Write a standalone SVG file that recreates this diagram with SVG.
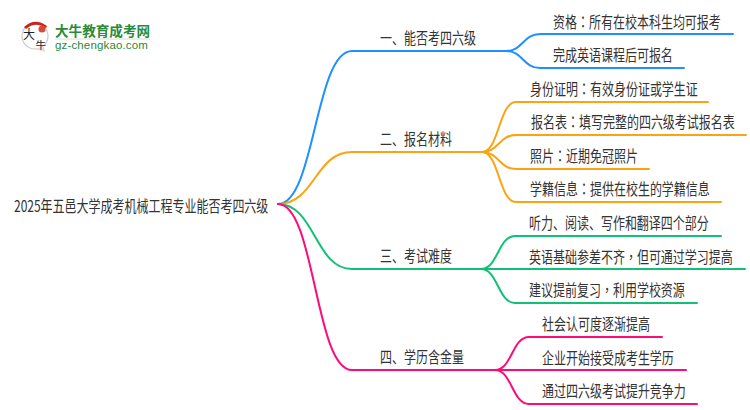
<svg xmlns="http://www.w3.org/2000/svg" width="750" height="410" viewBox="0 0 750 410">
<style>
text{font-family:"Noto Sans CJK SC","Noto Sans",sans-serif;font-size:16px;fill:#333}
tspan{font-family:"Noto Sans CJK TC","Noto Sans",sans-serif}
.c{fill:none;stroke-width:2;stroke-linecap:round}
.b{stroke:#1e90ff}.o{stroke:#fca311}.g{stroke:#10c077}.p{stroke:#ff0a78}
</style>
<rect width="750" height="410" fill="#fff"/>
<g id="logo">
<circle cx="35" cy="36" r="13" fill="#fff" stroke="#ccc" stroke-width="1.2"/>
<path d="M24 27Q35 17 47 26L46 28Q35 21 26 29Z" fill="#c8251d"/>
<circle cx="42" cy="29" r="3.5" fill="#d64a3c"/>
<path d="M35 49L44 47L45 52Z" fill="#ddd"/>
<text x="23" y="39" style="font-size:12px;fill:#222">大</text>
<text x="35.5" y="49" style="font-size:10.5px;fill:#222">牛</text>
<text x="55" y="36" style="font-size:13.6px;font-weight:700;fill:#2a8a3a">大牛教育成考网</text>
<path d="M55 39H150" stroke="#cfe3d0" stroke-width="1"/>
<text x="55" y="49" style="font-size:11.5px;font-family:'Liberation Sans',sans-serif;fill:#2a8a3a;letter-spacing:.15px">gz-chengkao.com</text>
</g>
<g id="connectors">
<path class="c b" d="M278 204C315 204 315 51 352 51H506"/>
<path class="c o" d="M278 204C315 204 315 152 352 152H482"/>
<path class="c g" d="M278 204C315 204 315 269 352 269H481"/>
<path class="c p" d="M278 204C315 204 315 370 352 370H495"/>
<path class="c b" d="M506 51C523 51 523 34 540 34H733"/>
<path class="c b" d="M506 51C523 51 523 68 540 68H684"/>
<path class="c o" d="M482 152C499 152 499 102 516 102H708"/>
<path class="c o" d="M482 152C499 152 499 135 516 135H746"/>
<path class="c o" d="M482 152C499 152 499 169 516 169H649"/>
<path class="c o" d="M482 152C499 152 499 202 516 202H721"/>
<path class="c g" d="M481 269C498 269 498 236 515 236H721"/>
<path class="c g" d="M481 269H745"/>
<path class="c g" d="M481 269C498 269 498 303 515 303H697"/>
<path class="c p" d="M495 370C512 370 512 337 529 337H662"/>
<path class="c p" d="M495 370H686"/>
<path class="c p" d="M495 370C512 370 512 404 529 404H697"/>
</g>
<g id="root"><text transform="translate(14 212) scale(.75 1)">2025年五邑大学成考机械工程专业能否考四六级</text></g>
<g id="n1"><text transform="translate(380 44) scale(.75 1)">一、能否考四六级</text></g>
<g id="n2"><text transform="translate(380 145) scale(.75 1)">二、报名材料</text></g>
<g id="n3"><text transform="translate(380 262) scale(.75 1)">三、考试难度</text></g>
<g id="n4"><text transform="translate(380 363) scale(.75 1)">四、学历含金量</text></g>
<g id="n11"><text transform="translate(553 28) scale(.75 1)">资格<tspan>：</tspan>所有在校本科生均可报考</text></g>
<g id="n12"><text transform="translate(553 61) scale(.75 1)">完成英语课程后可报名</text></g>
<g id="n21"><text transform="translate(530 95) scale(.75 1)">身份证明<tspan>：</tspan>有效身份证或学生证</text></g>
<g id="n22"><text transform="translate(531 128) scale(.75 1)">报名表<tspan>：</tspan>填写完整的四六级考试报名表</text></g>
<g id="n23"><text transform="translate(530 162) scale(.75 1)">照片<tspan>：</tspan>近期免冠照片</text></g>
<g id="n24"><text transform="translate(530 195) scale(.75 1)">学籍信息<tspan>：</tspan>提供在校生的学籍信息</text></g>
<g id="n31"><text transform="translate(529 229) scale(.75 1)">听力、阅读、写作和翻译四个部分</text></g>
<g id="n32"><text transform="translate(529 263) scale(.75 1)">英语基础参差不齐<tspan>，</tspan>但可通过学习提高</text></g>
<g id="n33"><text transform="translate(529 296) scale(.75 1)">建议提前复习<tspan>，</tspan>利用学校资源</text></g>
<g id="n41"><text transform="translate(542 330) scale(.75 1)">社会认可度逐渐提高</text></g>
<g id="n42"><text transform="translate(542 364) scale(.75 1)">企业开始接受成考生学历</text></g>
<g id="n43"><text transform="translate(542 397) scale(.75 1)">通过四六级考试提升竞争力</text></g>
</svg>
